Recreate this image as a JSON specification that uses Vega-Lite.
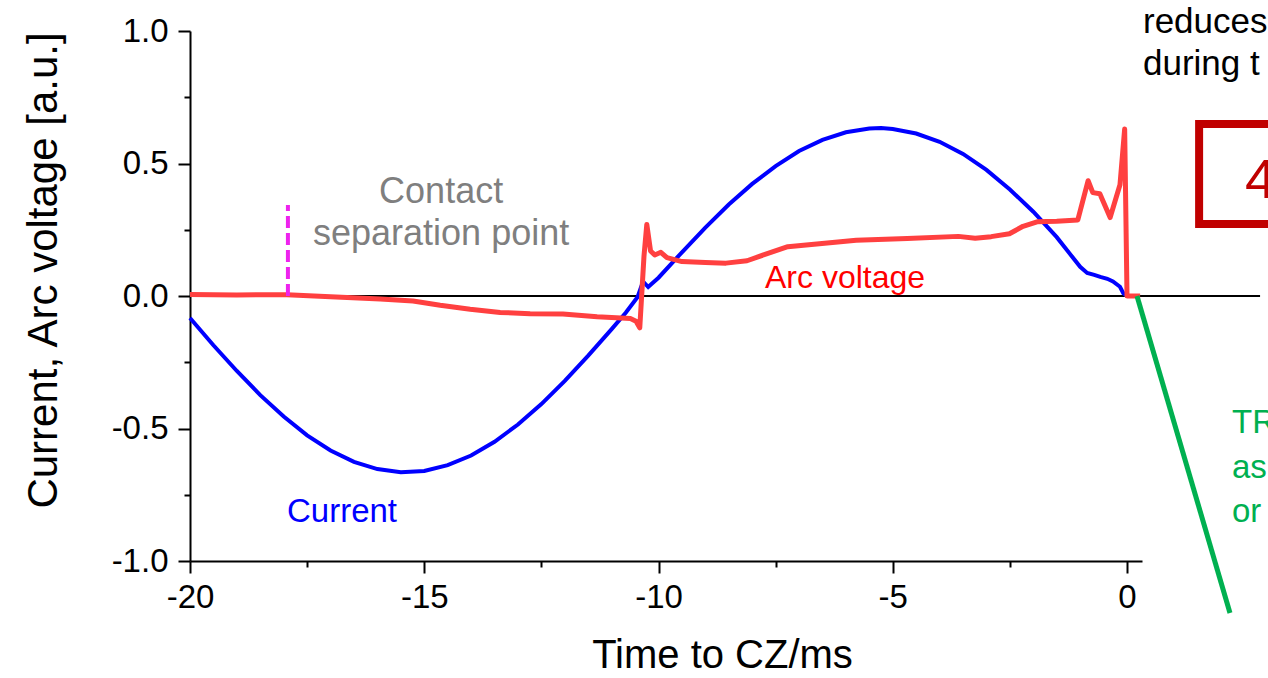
{
  "$schema": "https://vega.github.io/schema/vega-lite/v6.json",
  "width": 952,
  "height": 530,
  "autosize": {"type": "none"},
  "padding": {"left": 190, "top": 31, "right": 126, "bottom": 117},
  "background": "white",
  "config": {
    "font": "Liberation Sans",
    "view": {"stroke": null},
    "axis": {
      "grid": false,
      "domainColor": "black",
      "domainWidth": 2,
      "tickColor": "black",
      "tickWidth": 2,
      "labelColor": "black",
      "titleColor": "black",
      "labelFont": "Liberation Sans",
      "titleFont": "Liberation Sans",
      "titleFontWeight": "normal",
      "labelFontSize": 33,
      "titleFontSize": 40
    }
  },
  "datasets": {
    "current": [
      {"t": -20, "v": -0.083}, {"t": -19.5, "v": -0.186}, {"t": -19, "v": -0.283},
      {"t": -18.5, "v": -0.374}, {"t": -18, "v": -0.455}, {"t": -17.5, "v": -0.526},
      {"t": -17, "v": -0.583}, {"t": -16.5, "v": -0.626}, {"t": -16, "v": -0.653},
      {"t": -15.5, "v": -0.665}, {"t": -15, "v": -0.66}, {"t": -14.5, "v": -0.638},
      {"t": -14, "v": -0.602}, {"t": -13.5, "v": -0.55}, {"t": -13, "v": -0.485},
      {"t": -12.5, "v": -0.408}, {"t": -12, "v": -0.32}, {"t": -11.5, "v": -0.225},
      {"t": -11, "v": -0.125}, {"t": -10.7, "v": -0.063}, {"t": -10.45, "v": -0.005},
      {"t": -10.33, "v": 0.055}, {"t": -10.22, "v": 0.034}, {"t": -10.12, "v": 0.05},
      {"t": -10, "v": 0.069}, {"t": -9.5, "v": 0.165}, {"t": -9, "v": 0.258},
      {"t": -8.5, "v": 0.345}, {"t": -8, "v": 0.423}, {"t": -7.5, "v": 0.49},
      {"t": -7, "v": 0.547}, {"t": -6.5, "v": 0.589}, {"t": -6, "v": 0.618},
      {"t": -5.5, "v": 0.632}, {"t": -5.25, "v": 0.634}, {"t": -5, "v": 0.63},
      {"t": -4.5, "v": 0.613}, {"t": -4, "v": 0.582}, {"t": -3.5, "v": 0.536},
      {"t": -3, "v": 0.476}, {"t": -2.5, "v": 0.402}, {"t": -2, "v": 0.318},
      {"t": -1.5, "v": 0.222}, {"t": -1.2, "v": 0.155}, {"t": -1, "v": 0.11},
      {"t": -0.85, "v": 0.087}, {"t": -0.7, "v": 0.08}, {"t": -0.57, "v": 0.072},
      {"t": -0.42, "v": 0.065}, {"t": -0.3, "v": 0.055}, {"t": -0.15, "v": 0.035},
      {"t": -0.08, "v": 0.011}, {"t": 0, "v": 0}
    ],
    "voltage": [
      {"t": -20, "v": 0.006}, {"t": -19, "v": 0.004}, {"t": -17.93, "v": 0.005},
      {"t": -17, "v": -0.003}, {"t": -15.94, "v": -0.011}, {"t": -15.24, "v": -0.019},
      {"t": -14.66, "v": -0.035}, {"t": -14.02, "v": -0.05}, {"t": -13.38, "v": -0.062},
      {"t": -12.74, "v": -0.067}, {"t": -12.04, "v": -0.068}, {"t": -11.31, "v": -0.078},
      {"t": -10.9, "v": -0.082}, {"t": -10.6, "v": -0.085}, {"t": -10.48, "v": -0.095},
      {"t": -10.4, "v": -0.12}, {"t": -10.36, "v": 0.0}, {"t": -10.31, "v": 0.15},
      {"t": -10.25, "v": 0.27}, {"t": -10.17, "v": 0.17}, {"t": -10.08, "v": 0.155},
      {"t": -9.95, "v": 0.165}, {"t": -9.82, "v": 0.145}, {"t": -9.5, "v": 0.13},
      {"t": -9.0, "v": 0.126}, {"t": -8.56, "v": 0.124}, {"t": -8.11, "v": 0.133},
      {"t": -7.68, "v": 0.16}, {"t": -7.24, "v": 0.186}, {"t": -6.51, "v": 0.198},
      {"t": -5.78, "v": 0.21}, {"t": -4.69, "v": 0.217}, {"t": -3.6, "v": 0.225},
      {"t": -3.24, "v": 0.218}, {"t": -2.9, "v": 0.224}, {"t": -2.51, "v": 0.235},
      {"t": -2.22, "v": 0.263}, {"t": -1.92, "v": 0.28}, {"t": -1.5, "v": 0.282},
      {"t": -1.05, "v": 0.287}, {"t": -0.83, "v": 0.435}, {"t": -0.73, "v": 0.39},
      {"t": -0.58, "v": 0.386}, {"t": -0.36, "v": 0.296}, {"t": -0.15, "v": 0.42},
      {"t": -0.05, "v": 0.63}, {"t": 0.0, "v": 0.0}, {"t": 0.28, "v": 0.0}
    ],
    "zeroLine": [{"t": -20, "t2": 2.84, "v": 0}],
    "separation": [{"t": -17.91, "v": 0, "v2": 0.343}],
    "trv": [{"t": 0.213, "v": 0.0, "t2": 2.198, "v2": -1.196}],
    "box": [{"t": 1.539, "v": 0.649, "t2": 3.7, "v2": 0.272}],
    "contactText": [
      {"t": -14.64, "v": 0.351, "label": "Contact"},
      {"t": -14.64, "v": 0.192, "label": "separation point"}
    ],
    "currentText": [{"t": -17.93, "v": -0.853, "label": "Current"}],
    "voltageText": [{"t": -7.727, "v": 0.03, "label": "Arc voltage"}],
    "noteText": [
      {"t": 0.341, "v": 0.992, "label": "reduces"},
      {"t": 0.341, "v": 0.834, "label": "during t"}
    ],
    "boxText": [{"t": 2.519, "v": 0.37, "label": "4"}],
    "trvText": [
      {"t": 2.241, "v": -0.517, "label": "TR"},
      {"t": 2.241, "v": -0.687, "label": "as"},
      {"t": 2.241, "v": -0.853, "label": "or"}
    ]
  },
  "encoding": {
    "x": {
      "field": "t",
      "type": "quantitative",
      "scale": {"domain": [-20, 0.32], "nice": false, "zero": false},
      "axis": {
        "title": "Time to CZ/ms",
        "values": [-20, -17.5, -15, -12.5, -10, -7.5, -5, -2.5, 0],
        "labelExpr": "datum.value % 5 != 0 ? '' : replace(format(datum.value, 'd'), '\u2212', '-')",
        "tickSize": {"condition": {"test": "datum.value % 5 != 0", "value": 6}, "value": 12},
        "labelPadding": 8,
        "labelFlush": false,
        "labelOverlap": false,
        "titleX": 532,
        "titleY": 106,
        "titleBaseline": "alphabetic",
        "titleAlign": "center"
      }
    },
    "y": {
      "field": "v",
      "type": "quantitative",
      "scale": {"domain": [-1, 1], "nice": false, "zero": false},
      "axis": {
        "title": "Current, Arc voltage [a.u.]",
        "values": [-1, -0.75, -0.5, -0.25, 0, 0.25, 0.5, 0.75, 1],
        "labelExpr": "abs(datum.value * 2 - round(datum.value * 2)) > 0.01 ? '' : replace(format(datum.value, '.1f'), '\u2212', '-')",
        "tickSize": {"condition": {"test": "abs(datum.value * 2 - round(datum.value * 2)) > 0.01", "value": 6}, "value": 12},
        "labelPadding": 10,
        "labelFlush": false,
        "labelOverlap": false,
        "titleX": -134,
        "titleY": 239,
        "titleAngle": -90,
        "titleFontSize": 42,
        "titleBaseline": "alphabetic",
        "titleAlign": "center"
      }
    }
  },
  "layer": [
    {
      "data": {"name": "zeroLine"},
      "mark": {"type": "rule", "color": "black", "strokeWidth": 2},
      "encoding": {"x2": {"field": "t2"}}
    },
    {
      "data": {"name": "current"},
      "mark": {"type": "line", "color": "#0000ff", "strokeWidth": 4},
      "encoding": {}
    },
    {
      "data": {"name": "voltage"},
      "mark": {"type": "line", "color": "#ff4040", "strokeWidth": 5, "strokeJoin": "round"},
      "encoding": {}
    },
    {
      "data": {"name": "trv"},
      "mark": {"type": "rule", "color": "#00b050", "strokeWidth": 5},
      "encoding": {"x2": {"field": "t2"}, "y2": {"field": "v2"}}
    },
    {
      "data": {"name": "separation"},
      "mark": {"type": "rule", "color": "#ee22ee", "strokeWidth": 4, "strokeDash": [12, 5]},
      "encoding": {"y2": {"field": "v2"}}
    },
    {
      "data": {"name": "box"},
      "mark": {"type": "rect", "filled": false, "stroke": "#c00000", "strokeWidth": 8},
      "encoding": {"x2": {"field": "t2"}, "y2": {"field": "v2"}}
    },
    {
      "data": {"name": "contactText"},
      "mark": {"type": "text", "align": "center", "baseline": "alphabetic", "fontSize": 36, "color": "#7f7f7f"},
      "encoding": {"text": {"field": "label"}}
    },
    {
      "data": {"name": "currentText"},
      "mark": {"type": "text", "align": "left", "baseline": "alphabetic", "fontSize": 33, "color": "#0000ff"},
      "encoding": {"text": {"field": "label"}}
    },
    {
      "data": {"name": "voltageText"},
      "mark": {"type": "text", "align": "left", "baseline": "alphabetic", "fontSize": 32, "color": "#ff0000"},
      "encoding": {"text": {"field": "label"}}
    },
    {
      "data": {"name": "noteText"},
      "mark": {"type": "text", "align": "left", "baseline": "alphabetic", "fontSize": 35, "color": "black"},
      "encoding": {"text": {"field": "label"}}
    },
    {
      "data": {"name": "boxText"},
      "mark": {"type": "text", "align": "left", "baseline": "alphabetic", "fontSize": 56, "color": "#c00000"},
      "encoding": {"text": {"field": "label"}}
    },
    {
      "data": {"name": "trvText"},
      "mark": {"type": "text", "align": "left", "baseline": "alphabetic", "fontSize": 33, "color": "#00b050"},
      "encoding": {"text": {"field": "label"}}
    }
  ]
}
